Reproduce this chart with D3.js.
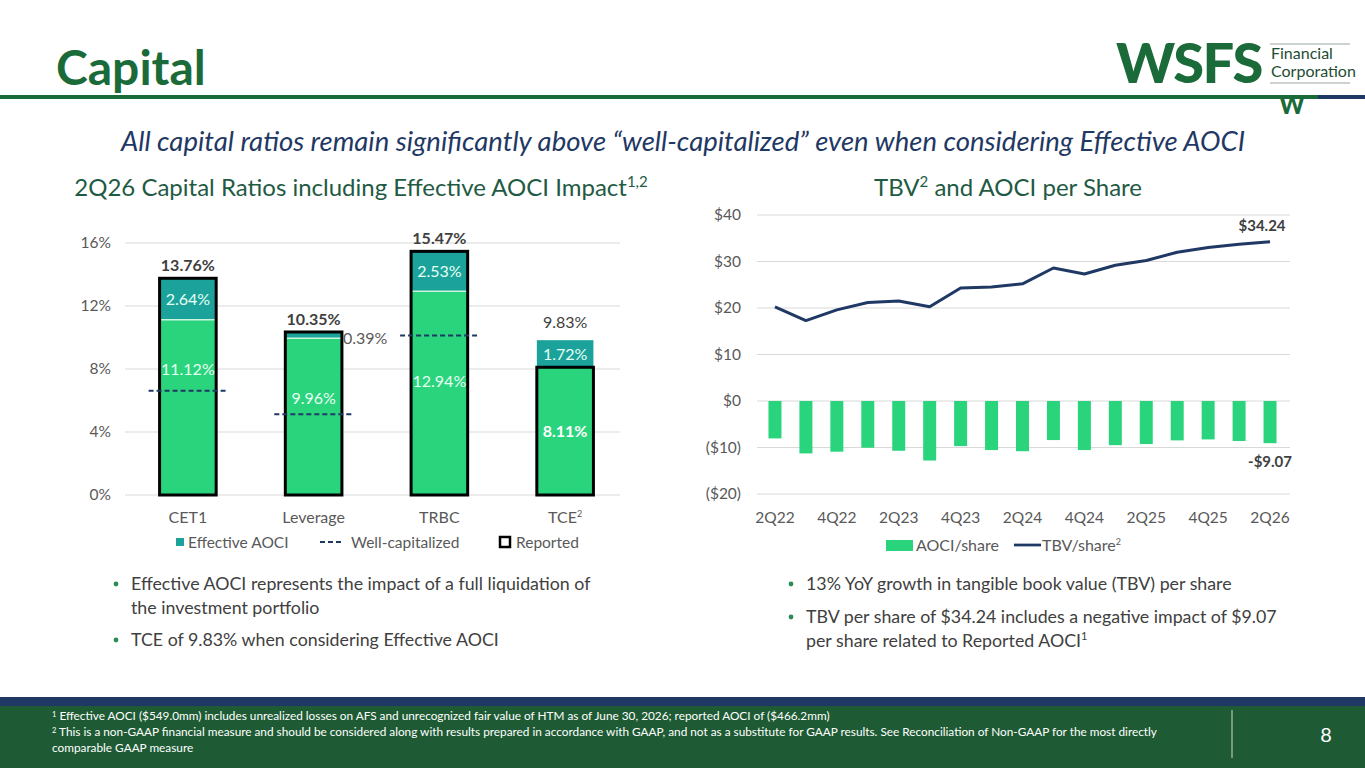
<!DOCTYPE html>
<html>
<head>
<meta charset="utf-8">
<script src="https://cdn.jsdelivr.net/npm/d3@7"></script>
<style>
  html, body { margin: 0; padding: 0; background: #fff; }
  svg { display: block; font-family: Lato, "Open Sans", sans-serif; }
</style>
</head>
<body>
<div id="slide"></div>
<script>
// ---- data ----
var ratioNames = ["CET1", "Leverage", "TRBC", "TCE"];
var ratioEffective = [11.12, 9.96, 12.94, 8.11];
var ratioAoci = [2.64, 0.39, 2.53, 1.72];
var ratioReported = [13.76, 10.35, 15.47, 8.11];
var ratioWellCap = [6.5, 5, 10, null];
var ratioTicks = [0, 4, 8, 12, 16];

var quarters = ["2Q22", "3Q22", "4Q22", "1Q23", "2Q23", "3Q23", "4Q23", "1Q24", "2Q24",
                "3Q24", "4Q24", "1Q25", "2Q25", "3Q25", "4Q25", "1Q26", "2Q26"];
var tbvShare = [20.25, 17.3, 19.6, 21.2, 21.5, 20.25, 24.3, 24.5, 25.2,
                28.6, 27.3, 29.2, 30.2, 32.0, 33.0, 33.7, 34.24];
var aociShare = [-8.04, -11.27, -10.9, -10.05, -10.7, -12.8, -9.7, -10.55, -10.8,
                 -8.4, -10.55, -9.5, -9.26, -8.47, -8.26, -8.6, -9.07];
var shareTicks = [-20, -10, 0, 10, 20, 30, 40];

// ---- colours ----
var GREEN = "#1b6b3a", NAVY = "#1f3864", BAR_GREEN = "#2ad47c", TEAL = "#1ba39b";
var TXT = "#404040", AXIS_TXT = "#595959", GRID = "#d9d9d9";

var svg = d3.select("#slide").append("svg")
    .attr("width", 1365).attr("height", 768);

// ---- header ----
svg.append("text").attr("x", 56).attr("y", 85)
    .attr("font-size", 48).attr("font-weight", 700).attr("fill", GREEN)
    .text("Capital");
svg.append("rect").attr("x", 0).attr("y", 95).attr("width", 1318).attr("height", 4).attr("fill", GREEN);
svg.append("rect").attr("x", 1318).attr("y", 95).attr("width", 47).attr("height", 4).attr("fill", NAVY);

// logo
var logo = svg.append("g");
logo.append("text").attr("x", 1116).attr("y", 83)
    .attr("font-size", 56).attr("font-weight", 900).attr("fill", GREEN)
    .attr("letter-spacing", -1.5).text("WSFS");
logo.append("line").attr("x1", 1270).attr("x2", 1350).attr("y1", 44).attr("y2", 44)
    .attr("stroke", "#9aa5a0").attr("stroke-width", 1);
logo.append("line").attr("x1", 1270).attr("x2", 1350).attr("y1", 83).attr("y2", 83)
    .attr("stroke", "#9aa5a0").attr("stroke-width", 1);
logo.append("text").attr("x", 1271).attr("y", 59).attr("font-size", 16)
    .attr("fill", "#1e4d33").text("Financial");
logo.append("text").attr("x", 1271).attr("y", 77).attr("font-size", 16)
    .attr("fill", "#1e4d33").text("Corporation");
logo.append("text").attr("x", 1292).attr("y", 114).attr("text-anchor", "middle")
    .attr("font-size", 24).attr("font-weight", 900).attr("fill", GREEN).text("W");

svg.append("text").attr("x", 683).attr("y", 151).attr("text-anchor", "middle")
    .attr("font-size", 27.5).attr("font-style", "italic").attr("fill", NAVY)
    .text("All capital ratios remain significantly above \u201cwell-capitalized\u201d even when considering Effective AOCI");

// chart titles
var lt = svg.append("text").attr("x", 361).attr("y", 196).attr("text-anchor", "middle")
    .attr("font-size", 24).attr("fill", "#1f5a44");
lt.append("tspan").text("2Q26 Capital Ratios including Effective AOCI Impact");
lt.append("tspan").attr("font-size", 15).attr("dy", -9).text("1,2");

var rt = svg.append("text").attr("x", 1008).attr("y", 196).attr("text-anchor", "middle")
    .attr("font-size", 24).attr("fill", "#1f5a44");
rt.append("tspan").text("TBV");
rt.append("tspan").attr("font-size", 15).attr("dy", -9).text("2");
rt.append("tspan").attr("dy", 9).text(" and AOCI per Share");

// ---- left chart: capital ratios ----
var xr = d3.scaleBand().domain(ratioNames).range([125, 628])
    .paddingInner(0.55).paddingOuter(0.275);
var yr = d3.scaleLinear().domain([0, 16]).range([495, 243]);

var left = svg.append("g");
left.selectAll("line.grid").data(ratioTicks).enter().append("line")
    .attr("class", "grid")
    .attr("x1", 125).attr("x2", 620)
    .attr("y1", function(d) { return yr(d); }).attr("y2", function(d) { return yr(d); })
    .attr("stroke", GRID).attr("stroke-width", 1);

var yAxisL = d3.axisLeft(yr).tickValues(ratioTicks).tickSize(0).tickPadding(0)
    .tickFormat(function(d) { return d + "%"; });
left.append("g").attr("transform", "translate(111,0)").call(yAxisL)
    .call(function(g) { g.select(".domain").remove(); })
    .selectAll("text").attr("font-size", 15.5).attr("fill", AXIS_TXT)
    .attr("font-family", "Lato, sans-serif");

var rows = ratioNames.map(function(n, i) {
    return { name: n, eff: ratioEffective[i], aoci: ratioAoci[i],
             rep: ratioReported[i], well: ratioWellCap[i],
             total: Math.round((ratioEffective[i] + ratioAoci[i]) * 100) / 100 };
});
var bw = xr.bandwidth();

// effective (green) segment
left.selectAll("rect.eff").data(rows).enter().append("rect")
    .attr("x", function(d) { return xr(d.name); })
    .attr("width", bw)
    .attr("y", function(d) { return yr(d.eff); })
    .attr("height", function(d) { return yr(0) - yr(d.eff); })
    .attr("fill", BAR_GREEN);
// effective AOCI (teal) segment
left.selectAll("rect.aoci").data(rows).enter().append("rect")
    .attr("x", function(d) { return xr(d.name); })
    .attr("width", bw)
    .attr("y", function(d) { return yr(d.total); })
    .attr("height", function(d) { return yr(d.eff) - yr(d.total); })
    .attr("fill", TEAL);
// thin separator
left.selectAll("line.sep").data(rows.filter(function(d) { return d.rep > d.eff; })).enter().append("line")
    .attr("x1", function(d) { return xr(d.name); })
    .attr("x2", function(d) { return xr(d.name) + bw; })
    .attr("y1", function(d) { return yr(d.eff); }).attr("y2", function(d) { return yr(d.eff); })
    .attr("stroke", "#c8f5dc").attr("stroke-width", 1.5);
// reported outline
left.selectAll("rect.rep").data(rows).enter().append("rect")
    .attr("x", function(d) { return xr(d.name); })
    .attr("width", bw)
    .attr("y", function(d) { return yr(d.rep); })
    .attr("height", function(d) { return yr(0) - yr(d.rep); })
    .attr("fill", "none").attr("stroke", "#000").attr("stroke-width", 3);

// well-capitalized marks
left.selectAll("line.well").data(rows.filter(function(d) { return d.well !== null; })).enter().append("line")
    .attr("x1", function(d) { return xr(d.name) - 11; })
    .attr("x2", function(d) { return xr(d.name) + bw + 12; })
    .attr("y1", function(d) { return yr(d.well) - 2; }).attr("y2", function(d) { return yr(d.well) - 2; })
    .attr("stroke", NAVY).attr("stroke-width", 2).attr("stroke-dasharray", "5,3");

// total labels
left.selectAll("text.total").data(rows).enter().append("text")
    .attr("x", function(d) { return xr(d.name) + bw / 2; })
    .attr("y", function(d) { return yr(d.total) - (d.rep < d.total ? 12 : 7); })
    .attr("text-anchor", "middle").attr("font-size", 16)
    .attr("font-weight", function(d) { return d.rep < d.total ? 400 : 700; })
    .attr("fill", TXT)
    .text(function(d) { return d.total.toFixed(2) + "%"; });

// teal segment labels (leverage one sits outside, right of the bar)
left.selectAll("text.aoci").data(rows).enter().append("text")
    .attr("x", function(d) { return d.aoci < 1 ? xr(d.name) + bw + 1 : xr(d.name) + bw / 2; })
    .attr("y", function(d) { return d.aoci < 1 ? yr(d.eff) + 6 : (yr(d.total) + yr(d.eff)) / 2 + 6; })
    .attr("text-anchor", function(d) { return d.aoci < 1 ? "start" : "middle"; })
    .attr("font-size", 16)
    .attr("fill", function(d) { return d.aoci < 1 ? AXIS_TXT : "#e8fff4"; })
    .text(function(d) { return d.aoci.toFixed(2) + "%"; });

// green segment labels, nudged off the well-capitalized marks like the slide
var greenLabelDy = [-38, -19, -12, 0];
left.selectAll("text.eff").data(rows).enter().append("text")
    .attr("x", function(d) { return xr(d.name) + bw / 2; })
    .attr("y", function(d, i) { return (yr(0) + yr(d.eff)) / 2 + 6 + greenLabelDy[i]; })
    .attr("text-anchor", "middle").attr("font-size", 16)
    .attr("font-weight", function(d) { return d.rep === d.eff ? 700 : 400; })
    .attr("fill", function(d) { return d.rep === d.eff ? "#fff" : "#e8fff4"; })
    .text(function(d) { return d.eff.toFixed(2) + "%"; });

// category labels
var xl = left.selectAll("text.cat").data(ratioNames).enter().append("text")
    .attr("x", function(d) { return xr(d) + bw / 2; })
    .attr("y", 523).attr("text-anchor", "middle")
    .attr("font-size", 16).attr("fill", AXIS_TXT);
xl.append("tspan").text(function(d) { return d; });
xl.filter(function(d) { return d === "TCE"; }).append("tspan")
    .attr("font-size", 9).attr("dy", -6).text("2");

// legend
var lg = left.append("g").attr("font-size", 15.5).attr("fill", AXIS_TXT);
lg.append("rect").attr("x", 176).attr("y", 538).attr("width", 8).attr("height", 8).attr("fill", TEAL);
lg.append("text").attr("x", 188).attr("y", 548).text("Effective AOCI");
lg.append("line").attr("x1", 320).attr("x2", 343).attr("y1", 542).attr("y2", 542)
    .attr("stroke", NAVY).attr("stroke-width", 2).attr("stroke-dasharray", "5,3");
lg.append("text").attr("x", 351).attr("y", 548).text("Well-capitalized");
lg.append("rect").attr("x", 500).attr("y", 537).attr("width", 10).attr("height", 10)
    .attr("fill", "#fff").attr("stroke", "#000").attr("stroke-width", 2.5);
lg.append("text").attr("x", 516).attr("y", 548).text("Reported");

// ---- right chart: TBV and AOCI per share ----
var xq = d3.scaleBand().domain(quarters).range([759.5, 1285.5])
    .paddingInner(0.58).paddingOuter(0.29);
var ys = d3.scaleLinear().domain([-20, 40]).range([494, 215]);

var right = svg.append("g");
right.selectAll("line.grid").data(shareTicks).enter().append("line")
    .attr("x1", 757).attr("x2", 1290)
    .attr("y1", function(d) { return ys(d); }).attr("y2", function(d) { return ys(d); })
    .attr("stroke", GRID).attr("stroke-width", 1);

var yAxisR = d3.axisLeft(ys).tickValues(shareTicks).tickSize(0).tickPadding(0)
    .tickFormat(function(d) { return d < 0 ? "($" + (-d) + ")" : "$" + d; });
right.append("g").attr("transform", "translate(741,0)").call(yAxisR)
    .call(function(g) { g.select(".domain").remove(); })
    .selectAll("text").attr("font-size", 15.5).attr("fill", AXIS_TXT)
    .attr("font-family", "Lato, sans-serif");

right.selectAll("rect.aoci").data(quarters).enter().append("rect")
    .attr("x", function(d) { return xq(d); })
    .attr("width", xq.bandwidth())
    .attr("y", ys(0))
    .attr("height", function(d, i) { return ys(aociShare[i]) - ys(0); })
    .attr("fill", BAR_GREEN);

var line = d3.line()
    .x(function(d, i) { return xq(quarters[i]) + xq.bandwidth() / 2; })
    .y(function(d) { return ys(d); });
right.append("path").datum(tbvShare).attr("d", line)
    .attr("fill", "none").attr("stroke", NAVY).attr("stroke-width", 3)
    .attr("stroke-linejoin", "round");

var lastQ = quarters[quarters.length - 1];
right.append("text").attr("x", xq(lastQ) + xq.bandwidth() / 2 - 8)
    .attr("y", ys(tbvShare[tbvShare.length - 1]) - 11)
    .attr("text-anchor", "middle").attr("font-size", 15).attr("font-weight", 700).attr("fill", TXT)
    .text("$" + tbvShare[tbvShare.length - 1].toFixed(2));
right.append("text").attr("x", xq(lastQ) + xq.bandwidth() / 2)
    .attr("y", ys(aociShare[aociShare.length - 1]) + 24)
    .attr("text-anchor", "middle").attr("font-size", 15).attr("font-weight", 700).attr("fill", TXT)
    .text("-$" + (-aociShare[aociShare.length - 1]).toFixed(2));

right.selectAll("text.q").data(quarters.filter(function(d, i) { return i % 2 === 0; })).enter().append("text")
    .attr("x", function(d) { return xq(d) + xq.bandwidth() / 2; })
    .attr("y", 523).attr("text-anchor", "middle")
    .attr("font-size", 15.5).attr("fill", AXIS_TXT)
    .text(function(d) { return d; });

var rl = right.append("g").attr("font-size", 16).attr("fill", AXIS_TXT);
rl.append("rect").attr("x", 886).attr("y", 540).attr("width", 27).attr("height", 11).attr("fill", BAR_GREEN);
rl.append("text").attr("x", 916).attr("y", 551).text("AOCI/share");
rl.append("line").attr("x1", 1014).attr("x2", 1041).attr("y1", 545).attr("y2", 545)
    .attr("stroke", NAVY).attr("stroke-width", 2.75);
var rlt = rl.append("text").attr("x", 1042).attr("y", 551);
rlt.append("tspan").text("TBV/share");
rlt.append("tspan").attr("font-size", 9).attr("dy", -6).text("2");

// ---- bullets ----
var bullets = svg.append("g").attr("font-size", 17.8).attr("fill", TXT);
function bullet(x, y, lines, sup) {
    bullets.append("circle").attr("cx", x).attr("cy", y - 6).attr("r", 2.4).attr("fill", "#2e8b57");
    lines.forEach(function(t, i) {
        var tx = bullets.append("text").attr("x", x + 15).attr("y", y + i * 24);
        tx.append("tspan").text(t);
        if (sup && i === lines.length - 1) {
            tx.append("tspan").attr("font-size", 11).attr("dy", -7).text(sup);
        }
    });
}
bullet(116, 590, ["Effective AOCI represents the impact of a full liquidation of", "the investment portfolio"]);
bullet(116, 646, ["TCE of 9.83% when considering Effective AOCI"]);
bullet(791, 590, ["13% YoY growth in tangible book value (TBV) per share"]);
bullet(791, 623, ["TBV per share of $34.24 includes a negative impact of $9.07", "per share related to Reported AOCI"], "1");

// ---- footer ----
svg.append("rect").attr("x", 0).attr("y", 697).attr("width", 1365).attr("height", 9).attr("fill", NAVY);
svg.append("rect").attr("x", 0).attr("y", 706).attr("width", 1365).attr("height", 62).attr("fill", "#1e5b34");
var foot = svg.append("g").attr("font-size", 11.8).attr("fill", "#fff");
var notes = [
    ["1", "Effective AOCI ($549.0mm) includes unrealized losses on AFS and unrecognized fair value of HTM as of June 30, 2026; reported AOCI of ($466.2mm)"],
    ["2", "This is a non-GAAP financial measure and should be considered along with results prepared in accordance with GAAP, and not as a substitute for GAAP results. See Reconciliation of Non-GAAP for the most directly"],
    ["", "comparable GAAP measure"]
];
notes.forEach(function(n, i) {
    var t = foot.append("text").attr("x", 52).attr("y", 720 + i * 16);
    if (n[0]) {
        t.append("tspan").attr("font-size", 7.5).attr("dy", -3).text(n[0]);
        t.append("tspan").attr("dy", 3).text(" " + n[1]);
    } else {
        t.text(n[1]);
    }
});
svg.append("line").attr("x1", 1232).attr("x2", 1232).attr("y1", 710).attr("y2", 758)
    .attr("stroke", "#d0d8d2").attr("stroke-width", 1);
svg.append("text").attr("x", 1326).attr("y", 742).attr("text-anchor", "middle")
    .attr("font-size", 20).attr("fill", "#fff").text("8");
</script>
</body>
</html>
